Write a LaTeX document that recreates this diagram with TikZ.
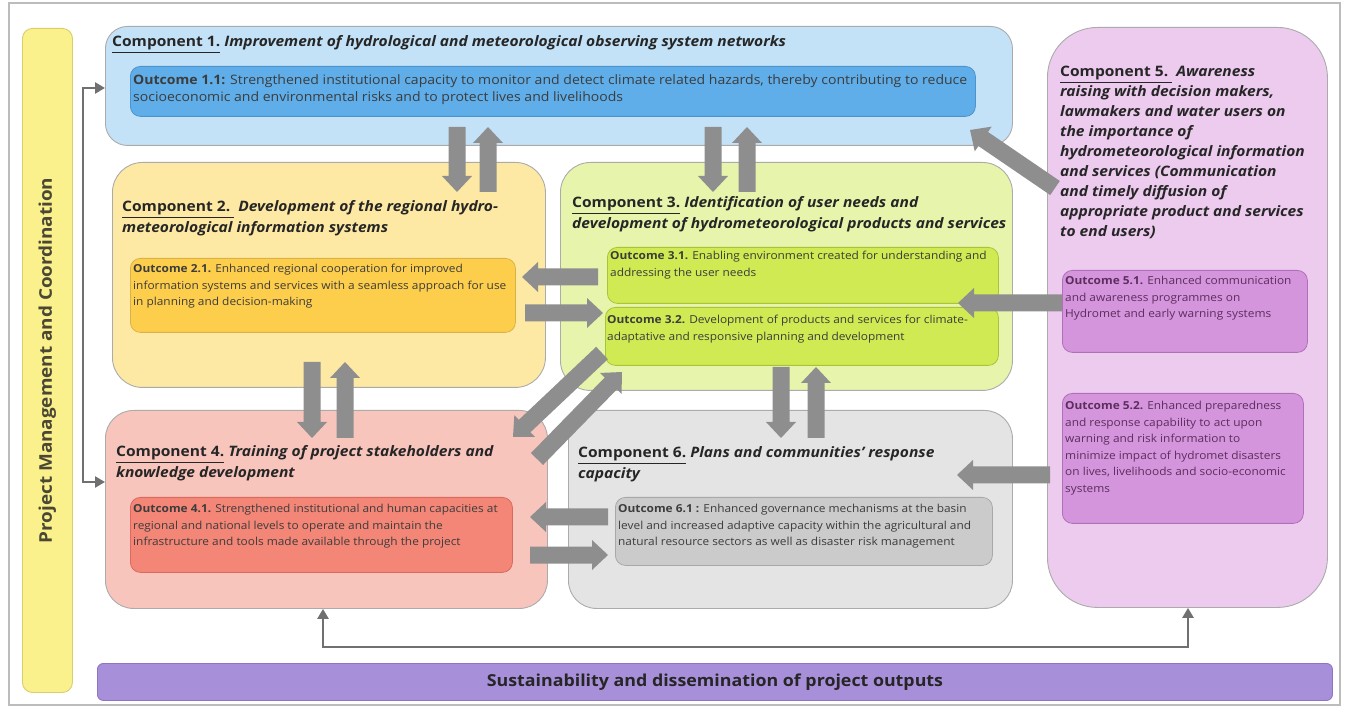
\documentclass[tikz,border=0pt]{standalone}
\usepackage{fontspec}
\setmainfont[FakeStretch=1.08]{Open Sans}
\usetikzlibrary{calc,arrows.meta}
\definecolor{cAfill}{HTML}{C4E2F7}\definecolor{cAout}{HTML}{5FAEE9}\definecolor{cAln}{HTML}{4E94CC}
\definecolor{cBfill}{HTML}{FDE9A3}\definecolor{cBout}{HTML}{FDCD4C}\definecolor{cBln}{HTML}{D9B24A}
\definecolor{cCfill}{HTML}{E6F4AC}\definecolor{cCout}{HTML}{CFEA52}\definecolor{cCln}{HTML}{A9C43A}
\definecolor{cDfill}{HTML}{F8C5BD}\definecolor{cDout}{HTML}{F38677}\definecolor{cDln}{HTML}{D86A5E}
\definecolor{cFfill}{HTML}{E4E4E4}\definecolor{cFout}{HTML}{CBCBCB}\definecolor{cFln}{HTML}{A8A8A8}
\definecolor{cEfill}{HTML}{ECCBEE}\definecolor{cEout}{HTML}{D595DC}\definecolor{cEln}{HTML}{B070B8}
\definecolor{pmfill}{HTML}{FAF18C}\definecolor{pmln}{HTML}{D8CE6A}
\definecolor{sdfill}{HTML}{A88FDA}\definecolor{sdln}{HTML}{8E74C4}
\definecolor{arrowgray}{HTML}{8E8E8E}
\definecolor{boxline}{HTML}{ABABAB}
\definecolor{titlecol}{HTML}{262626}
\definecolor{bodycol}{HTML}{3C3C3C}
\definecolor{purpcol}{HTML}{5B2E5E}
\definecolor{conncol}{HTML}{707070}
\newcommand\barrow[2]{%
  \coordinate (n#1#2) at ($(#2)!16pt!(#1)$);
  \fill[arrowgray]
    ($(#1)!8.5pt!90:(#2)$) -- ($(n#1#2)!8.5pt!90:(#2)$) -- ($(n#1#2)!15pt!90:(#2)$) -- (#2)
    -- ($(n#1#2)!15pt!-90:(#2)$) -- ($(n#1#2)!8.5pt!-90:(#2)$) -- ($(#1)!8.5pt!-90:(#2)$) -- cycle;
}
\newcommand\comp[2]{\underline{Component #1}\ \textit{#2}}
\begin{document}
\begin{tikzpicture}[x=1pt,y=-1pt,
  compbox/.style={draw=boxline, line width=0.9pt, inner sep=0pt, anchor=north west},
  outbox/.style={line width=0.8pt, inner sep=0pt, anchor=north west, rounded corners=10pt},
  ctitle/.style={anchor=base west, inner sep=0pt, align=left, text=titlecol,
     font=\fontsize{14.4}{21}\selectfont\bfseries},
  otext/.style={anchor=base west, inner sep=0pt, align=left, text=bodycol,
     font=\fontsize{11}{16.5}\selectfont},
  conn/.style={draw=conncol, line width=2.6pt}
]
\useasboundingbox (0,0) rectangle (1345,708);
\draw[draw=boxline!80, line width=1.2pt] (9,3) rectangle (1340,705);

% side bar
\node[draw=pmln, fill=pmfill, line width=0.9pt, rounded corners=10pt, inner sep=0pt,
  anchor=north west, minimum width=50pt, minimum height=664pt] (pm) at (22,28) {};
\node[rotate=90, font=\fontsize{17.5}{20}\selectfont\bfseries, text=titlecol!80!pmln] (pmt) at (pm.center) {Project Management and Coordination};

% bottom bar
\node[draw=sdln, fill=sdfill, line width=0.9pt, rounded corners=6pt, inner sep=0pt,
  anchor=north west, minimum width=1235pt, minimum height=37pt] (sd) at (97,663) {};
\node[font=\fontsize{16.5}{18}\selectfont\bfseries, text=titlecol] (sdt) at (sd.center) {Sustainability and dissemination of project outputs};

% components
\node[compbox, fill=cAfill, rounded corners=22pt, minimum width=907pt, minimum height=119pt] (c1) at (105,26) {};
\node[compbox, fill=cBfill, rounded corners=30pt, minimum width=433pt, minimum height=225pt] (c2) at (112,162) {};
\node[compbox, fill=cCfill, rounded corners=30pt, minimum width=452pt, minimum height=228pt] (c3) at (560,162) {};
\node[compbox, fill=cDfill, rounded corners=28pt, minimum width=442pt, minimum height=198pt] (c4) at (105,410) {};
\node[compbox, fill=cFfill, rounded corners=28pt, minimum width=444pt, minimum height=198pt] (c6) at (568,410) {};
\node[compbox, fill=cEfill, rounded corners=50pt, minimum width=280pt, minimum height=580pt] (c5) at (1047,27) {};

% outcome boxes
\node[outbox, draw=cAln, fill=cAout, minimum width=845pt, minimum height=50pt] (o11) at (130,66) {};
\node[outbox, draw=cBln, fill=cBout, minimum width=385pt, minimum height=74pt] (o21) at (130,258) {};
\node[outbox, draw=cCln, fill=cCout, minimum width=391pt, minimum height=56pt] (o31) at (607,247) {};
\node[outbox, draw=cCln, fill=cCout, minimum width=393pt, minimum height=58pt] (o32) at (605,307) {};
\node[outbox, draw=cDln, fill=cDout, minimum width=382pt, minimum height=75pt] (o41) at (130,497) {};
\node[outbox, draw=cFln, fill=cFout, minimum width=377pt, minimum height=68pt] (o61) at (615,497) {};
\node[outbox, draw=cEln, fill=cEout, minimum width=245pt, minimum height=82pt] (o51) at (1062,270) {};
\node[outbox, draw=cEln, fill=cEout, minimum width=241pt, minimum height=130pt] (o52) at (1062,393) {};

% titles (anchor = baseline of the last line)
\node[ctitle] (t1) at (112,47) {\comp{1.}{Improvement of hydrological and meteorological observing system networks}};
\node[ctitle] (t2) at (122,233) {\underline{Component 2.\ }\ \textit{Development of the regional hydro-}\\\textit{meteorological information systems}};
\node[ctitle] (t3) at (572,229) {\underline{Component 3.}\ \textit{Identification of user needs and}\\\textit{development of hydrometeorological products and services}};
\node[ctitle] (t4) at (116,478) {\underline{Component 4.}\ \textit{Training of project stakeholders and}\\\textit{knowledge development}};
\node[ctitle] (t6) at (578,479) {\underline{Component 6.}\ \textit{Plans and communities’ response}\\\textit{capacity}};
\node[ctitle, font=\fontsize{14.4}{20}\selectfont\bfseries] (t5) at (1060,237) {\underline{Component 5.\ }\ \textit{Awareness}\\\textit{raising with decision makers,}\\\textit{lawmakers and water users on}\\\textit{the importance of}\\\textit{hydrometeorological information}\\\textit{and services (Communication}\\\textit{and timely diffusion of}\\\textit{appropriate product and services}\\\textit{to end users)}};

% outcome texts
\node[otext, font=\fontsize{13}{17}\selectfont] (x11) at (133,102) {\textbf{Outcome 1.1:} Strengthened institutional capacity to monitor and detect climate related hazards, thereby contributing to reduce\\socioeconomic and environmental risks and to protect lives and livelihoods};
\node[otext] (x21) at (133,306) {\textbf{Outcome 2.1.} Enhanced regional cooperation for improved\\information systems and services with a seamless approach for use\\in planning and decision-making};
\node[otext] (x31) at (610,276.5) {\textbf{Outcome 3.1.} Enabling environment created for understanding and\\addressing the user needs};
\node[otext] (x32) at (607,340.5) {\textbf{Outcome 3.2.} Development of products and services for climate-\\adaptative and responsive planning and development};
\node[otext] (x41) at (133,546) {\textbf{Outcome 4.1.} Strengthened institutional and human capacities at\\regional and national levels to operate and maintain the\\infrastructure and tools made available through the project};
\node[otext] (x61) at (618,546) {\textbf{Outcome 6.1 :} Enhanced governance mechanisms at the basin\\level and increased adaptive capacity within the agricultural and\\natural resource sectors as well as disaster risk management};
\node[otext, text=purpcol] (x51) at (1065,318) {\textbf{Outcome 5.1.} Enhanced communication\\and awareness programmes on\\Hydromet and early warning systems};
\node[otext, text=purpcol] (x52) at (1065,492.5) {\textbf{Outcome 5.2.} Enhanced preparedness\\and response capability to act upon\\warning and risk information to\\minimize impact of hydromet disasters\\on lives, livelihoods and socio-economic\\systems};

% block arrow end points
\coordinate (a12s) at (457,127); \coordinate (a12e) at (457,192);
\coordinate (a21s) at (488,192); \coordinate (a21e) at (488,127);
\coordinate (a13s) at (713,127); \coordinate (a13e) at (713,192);
\coordinate (a31s) at (747,192); \coordinate (a31e) at (747,127);
\coordinate (a24s) at (312,362); \coordinate (a24e) at (312,438);
\coordinate (a42s) at (345,438); \coordinate (a42e) at (345,362);
\coordinate (a36s) at (781,367); \coordinate (a36e) at (781,438);
\coordinate (a63s) at (816,438); \coordinate (a63e) at (816,367);
\coordinate (a32s) at (598,277); \coordinate (a32e) at (522,277);
\coordinate (a23s) at (525,313); \coordinate (a23e) at (603,313);
\coordinate (a64s) at (608,517); \coordinate (a64e) at (530,517);
\coordinate (a46s) at (530,555); \coordinate (a46e) at (608,555);
\coordinate (a34s) at (602,353); \coordinate (a34e) at (513,437);
\coordinate (a43s) at (537,459); \coordinate (a43e) at (622,372);
\coordinate (a51s) at (1055,188); \coordinate (a51e) at (970,130);
\coordinate (a53s) at (1062,303); \coordinate (a53e) at (958,303);
\coordinate (a56s) at (1050,475); \coordinate (a56e) at (957,475);
\barrow{a12s}{a12e}\barrow{a21s}{a21e}
\barrow{a13s}{a13e}\barrow{a31s}{a31e}
\barrow{a24s}{a24e}\barrow{a42s}{a42e}
\barrow{a36s}{a36e}\barrow{a63s}{a63e}
\barrow{a32s}{a32e}\barrow{a23s}{a23e}
\barrow{a64s}{a64e}\barrow{a46s}{a46e}
\barrow{a34s}{a34e}\barrow{a43s}{a43e}
\barrow{a51s}{a51e}\barrow{a53s}{a53e}\barrow{a56s}{a56e}

% connectors
\coordinate (lct) at (83,88); \coordinate (lcb) at (83,482);
\draw[conn, {Triangle[length=10pt,width=11pt]}-{Triangle[length=10pt,width=11pt]}]
  (c1.west |- lct) -- (lct) -- (lcb) -- (c4.west |- lcb);
\coordinate (bl) at (323,647); \coordinate (br) at (1188,647);
\draw[conn, {Triangle[length=10pt,width=11pt]}-{Triangle[length=10pt,width=11pt]}]
  (c4.south -| bl) -- (bl) -- (br) -- (c5.south -| br);
\end{tikzpicture}
\end{document}
